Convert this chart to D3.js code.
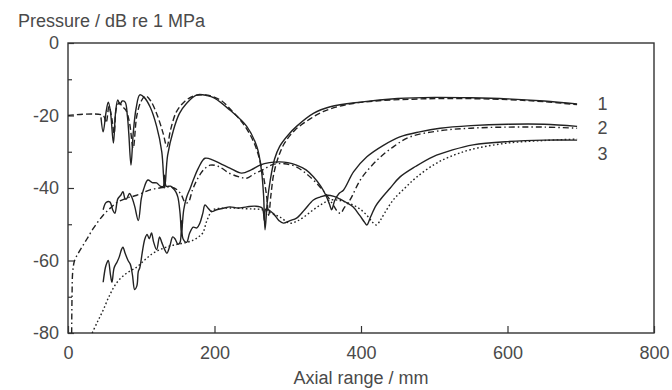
<!DOCTYPE html>
<html>
<head>
  <meta charset="utf-8">
  <title>Axial pressure</title>
  <script src="https://d3js.org/d3.v7.min.js"></script>
  <style>
    body { margin: 0; background: #fff; }
    svg text { font-family: "Liberation Sans", Arial, sans-serif; fill: #4a4a4a; }
  </style>
</head>
<body>
<svg id="chart" width="672" height="390"></svg>
<script>
// axis ticks
const xTicks = [0, 200, 400, 600, 800];
const yTicks = [0, -20, -40, -60, -80];
const yMinor = [-10, -30, -50, -70];
const curveLabels = ["1", "2", "3"];
const labelAt = [-16.8, -23.5, -30.5];

// measured (solid) and computed (broken) curves, [mm, dB]
const measured1 = [[45,-20.5],[48,-24.5],[52,-19],[55,-16.3],[58,-19],[62,-27.6],[65,-19],[68,-15.7],[71,-17],[74,-16],[78,-16.3],[81,-20],[83,-25],[86,-33.7],[89,-25],[93,-18],[98,-14.3],[104,-15],[112,-17.6],[121,-23],[128,-30],[132,-40],[136,-31],[144,-24],[152,-19.5],[162,-16.6],[176,-14.3],[190,-14.5],[200,-15.2],[221,-18.5],[244,-23],[258,-28.7],[264,-35],[267,-42],[269,-51.5],[272,-44],[276,-38],[282,-32],[289,-28.5],[300,-25.5],[312,-23],[335,-19.4],[358,-17.6],[399,-16.3],[450,-15.3],[500,-15],[550,-15.1],[600,-15.4],[650,-16],[695,-16.8]];
const computed1 = [[0,-20],[48,-20],[52,-22],[56,-17.5],[60,-21],[63,-25],[66,-18],[70,-16.5],[74,-17.5],[79,-18.5],[84,-22],[89,-29],[94,-20],[100,-16],[106,-14.6],[113,-16],[122,-20],[130,-25],[135,-28.6],[140,-24],[148,-19],[160,-16],[172,-14.6],[184,-14.3],[195,-14.6],[210,-16],[225,-19],[240,-22.5],[255,-28],[265,-35],[271,-42],[274,-47.5],[277,-42],[281,-36],[288,-31],[296,-27.5],[310,-24],[330,-21],[350,-18.8],[380,-17],[420,-16],[470,-15.5],[520,-15.3],[600,-15.6],[650,-16.2],[695,-17]];

const measured2 = [[48,-46],[52,-44],[57,-43.8],[61,-46],[64,-47],[68,-43],[72,-42],[75,-41],[78,-43],[80,-43],[84,-41.5],[87,-42.5],[91,-45],[96,-49],[100,-43],[103,-40.5],[109,-37.8],[115,-38.5],[121,-38.6],[126,-39.5],[130,-39.6],[132,-36.5],[134,-39.5],[140,-39.5],[143,-40],[147,-41],[150,-42.5],[153,-47],[155,-52],[158,-46],[162,-42.5],[167,-40],[171,-37.8],[178,-34.5],[187,-31.8],[198,-32.3],[210,-33.5],[221,-34.5],[237,-35.9],[250,-35],[262,-33.7],[275,-33],[289,-32.8],[300,-33],[312,-33.7],[325,-35],[335,-36.9],[345,-39.5],[352,-42],[357,-44.5],[360,-46],[364,-43.5],[370,-41.5],[376,-40.6],[390,-35.5],[408,-31.4],[430,-28.3],[453,-25.9],[480,-24.5],[508,-23.5],[550,-22.8],[600,-22.4],[650,-22.4],[695,-23]];
const computed2 = [[5,-80],[5.5,-70],[6.5,-63],[9,-60],[14,-58],[20,-56],[26,-54],[35,-51],[48,-47.5],[58,-45.5],[67,-44],[80,-42.8],[94,-42],[112,-40.5],[125,-40],[139,-39.7],[149,-40.5],[155,-42],[160,-44],[164,-44],[170,-40.5],[176,-37.8],[185,-35],[194,-33.7],[205,-34],[221,-36],[235,-37],[244,-37.3],[255,-36],[266,-35],[280,-33.5],[295,-33.3],[310,-34],[325,-36],[344,-39.7],[355,-42.5],[363,-45],[368,-46.5],[372,-47],[377,-45.5],[385,-43.3],[400,-37.5],[422,-32.3],[445,-28.5],[467,-25.9],[508,-24.2],[550,-23.5],[600,-23.2],[650,-23.2],[695,-23.5]];

const measured3 = [[48,-66],[51,-62],[53,-60.7],[55,-60],[58,-64],[60,-66],[63,-62],[67,-60.4],[70,-59],[73,-57],[75,-56.3],[78,-58],[82,-60],[85,-61],[88,-64],[91,-68],[94,-67],[96,-63],[98,-62],[102,-57],[105,-54],[108,-52.8],[111,-54],[114,-52.4],[117,-55],[121,-57],[125,-53.5],[128,-55],[132,-57],[135,-58],[139,-56],[143,-53.5],[146,-54],[150,-55.5],[153,-55],[155,-49],[157,-54],[162,-55],[166,-52.5],[171,-50.8],[176,-51],[180,-49.7],[184,-47],[187,-44.7],[191,-45.5],[196,-46.5],[203,-46],[212,-45.6],[221,-45.2],[232,-45.5],[244,-45.2],[255,-45],[265,-45.5],[268,-49],[270,-45.8],[280,-47],[288,-49],[294,-49.7],[303,-49],[312,-48.3],[323,-46],[335,-43.3],[344,-42.5],[354,-42],[363,-42.3],[371,-43],[380,-44],[389,-45.2],[398,-47.5],[405,-49.5],[408,-50.2],[413,-48],[420,-45],[426,-43.3],[440,-40],[453,-37],[475,-34],[498,-31.4],[525,-29.5],[553,-28.1],[600,-27.2],[650,-26.8],[695,-26.8]];
const computed3 = [[33,-80],[40,-77],[48,-73.7],[57,-69.5],[67,-66],[80,-63.5],[94,-61.8],[105,-59.8],[116,-58],[128,-56.8],[139,-56],[150,-55.5],[162,-55],[171,-54.4],[178,-53.5],[184,-52.4],[190,-48.8],[198,-46],[210,-45.6],[221,-45.5],[240,-45.7],[255,-45.8],[266,-46],[278,-47],[289,-48],[303,-49.7],[312,-49.2],[322,-48],[335,-46],[346,-44.5],[358,-43.3],[372,-43.5],[389,-44.7],[400,-46],[410,-48],[416,-49.5],[421,-50.2],[426,-49],[432,-47],[444,-43.3],[460,-40],[476,-37],[500,-33.5],[521,-31.4],[550,-29.4],[600,-27.6],[650,-26.9],[695,-26.5]];

const svg = d3.select("#chart");
const margin = {top: 43, right: 18, bottom: 57, left: 68};
const w = 672 - margin.left - margin.right;
const h = 390 - margin.top - margin.bottom;

const x = d3.scaleLinear().domain([0, 800]).range([0, w]);
const y = d3.scaleLinear().domain([-80, 0]).range([h, 0]);

const g = svg.append("g").attr("transform", `translate(${margin.left},${margin.top})`);

// frame
g.append("rect")
    .attr("width", w).attr("height", h)
    .attr("fill", "none").attr("stroke", "#333").attr("stroke-width", 1.4);

// axes with inward ticks, plain hyphen for minus
const fmt = d => String(d);
const xAxis = g.append("g")
    .attr("transform", `translate(0,${h})`)
    .call(d3.axisBottom(x).tickValues(xTicks).tickSize(-7).tickPadding(13).tickFormat(fmt));
const yAxis = g.append("g")
    .call(d3.axisLeft(y).tickValues(yTicks).tickSize(-6).tickPadding(9).tickFormat(fmt));
const yAxisMinor = g.append("g")
    .call(d3.axisLeft(y).tickValues(yMinor).tickSize(-4).tickFormat(""));

[xAxis, yAxis, yAxisMinor].forEach(a => {
    a.select(".domain").remove();
    a.selectAll("line").attr("stroke", "#333").attr("stroke-width", 1.2);
    a.selectAll("text").attr("font-size", 18).attr("fill", "#4a4a4a");
});

const line = d3.line()
    .x(d => x(d[0]))
    .y(d => y(d[1]))
    .curve(d3.curveCatmullRom.alpha(0.5));

const series = [
    {data: computed1, dash: "6,3"},
    {data: computed2, dash: "6,3,1.5,3"},
    {data: computed3, dash: "1.6,2.4"},
    {data: measured1, dash: null},
    {data: measured2, dash: null},
    {data: measured3, dash: null}
];

g.selectAll("path.curve")
    .data(series)
    .enter()
    .append("path")
    .attr("class", "curve")
    .attr("d", d => line(d.data))
    .attr("fill", "none")
    .attr("stroke", "#222")
    .attr("stroke-width", 1.4)
    .attr("stroke-dasharray", d => d.dash);

// curve numbers
g.selectAll("text.num")
    .data(curveLabels)
    .enter()
    .append("text")
    .attr("class", "num")
    .attr("x", x(723))
    .attr("y", (d, i) => y(labelAt[i]))
    .attr("dy", "0.35em")
    .attr("font-size", 18)
    .text(d => d);

// axis titles
svg.append("text")
    .attr("x", 18).attr("y", 27)
    .attr("font-size", 18)
    .text("Pressure / dB re 1 MPa");

svg.append("text")
    .attr("x", margin.left + w / 2).attr("y", 384)
    .attr("text-anchor", "middle")
    .attr("font-size", 18)
    .text("Axial range / mm");
</script>
</body>
</html>
